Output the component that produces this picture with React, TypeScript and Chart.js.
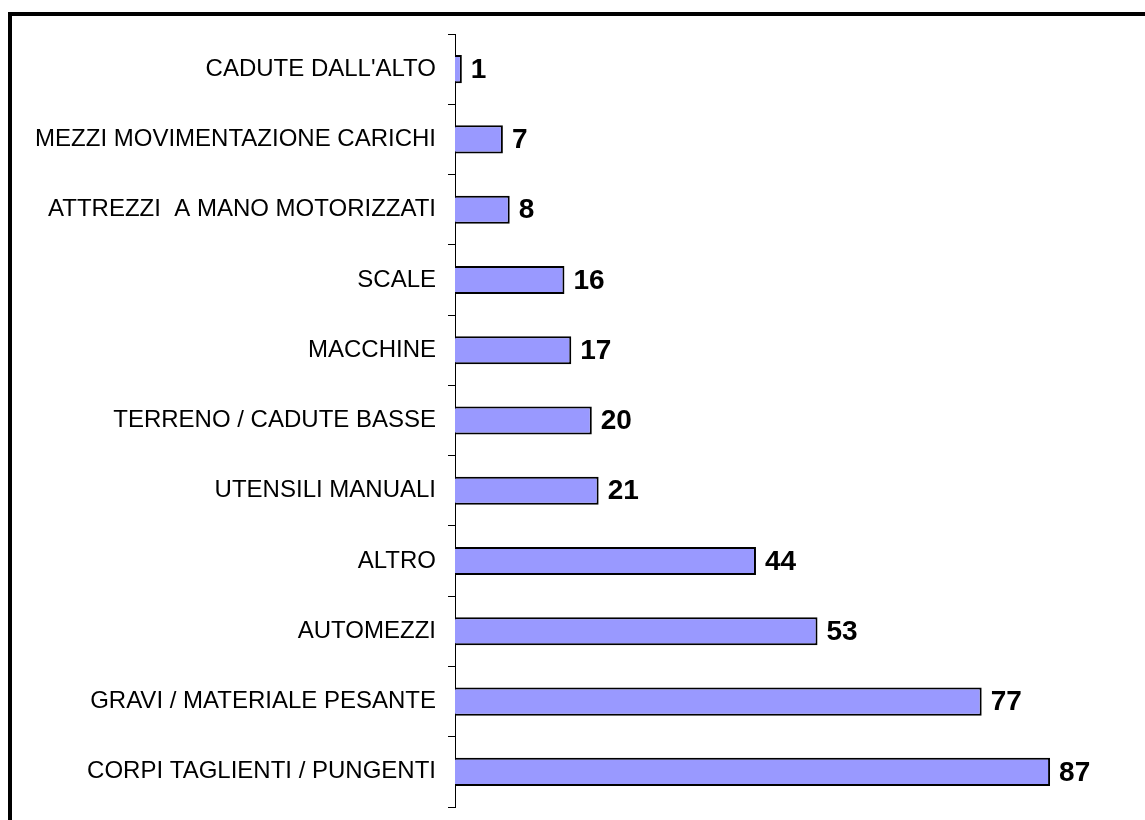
import React, { useEffect, useRef } from "react";
import { Chart, registerables } from "chart.js";

Chart.register(...registerables);

const categories = [
  "CADUTE DALL'ALTO",
  "MEZZI MOVIMENTAZIONE CARICHI",
  "ATTREZZI  A MANO MOTORIZZATI",
  "SCALE",
  "MACCHINE",
  "TERRENO / CADUTE BASSE",
  "UTENSILI MANUALI",
  "ALTRO",
  "AUTOMEZZI",
  "GRAVI / MATERIALE PESANTE",
  "CORPI TAGLIENTI / PUNGENTI",
];

const values = [1, 7, 8, 16, 17, 20, 21, 44, 53, 77, 87];

const xMin = 0;
const xMax = 100;

const valueLabelPlugin = {
  id: "valueLabels",
  afterDatasetsDraw(chart: any) {
    const ctx = chart.ctx;
    const meta = chart.getDatasetMeta(0);
    ctx.save();
    ctx.font = "bold 28px 'Liberation Sans', Arial, sans-serif";
    ctx.fillStyle = "#000";
    ctx.textAlign = "left";
    ctx.textBaseline = "middle";
    meta.data.forEach((bar: any, i: number) => {
      const v = chart.data.datasets[0].data[i];
      ctx.fillText(String(v), bar.x + 9, bar.y + 1);
    });
    ctx.restore();
  },
};

const framePlugin = {
  id: "frame",
  beforeDraw(chart: any) {
    const ctx = chart.ctx;
    ctx.save();
    ctx.fillStyle = "#fff";
    ctx.fillRect(0, 0, chart.width, chart.height);
    ctx.restore();
  },
  afterDraw(chart: any) {
    const ctx = chart.ctx;
    ctx.save();
    ctx.fillStyle = "#000";
    ctx.fillRect(8, 12, chart.width - 8, 4);
    ctx.fillRect(8, 12, 4, chart.height - 12);
    ctx.restore();
  },
};

export default function App() {
  const canvasRef = useRef<HTMLCanvasElement | null>(null);

  useEffect(() => {
    document.body.style.margin = "0";
    const canvas = canvasRef.current;
    if (!canvas) return;
    const chart = new Chart(canvas, {
      type: "bar",
      data: {
        labels: categories,
        datasets: [
          {
            data: values,
            backgroundColor: "#9999FF",
            borderColor: "#000000",
            borderWidth: 2,
            barPercentage: 0.4,
            categoryPercentage: 1,
          },
        ],
      },
      options: {
        indexAxis: "y",
        responsive: false,
        animation: false,
        devicePixelRatio: 1,
        layout: { padding: { left: 0, top: 34, bottom: 13, right: 6 } },
        plugins: {
          legend: { display: false },
          tooltip: { enabled: false },
          title: { display: false },
        },
        scales: {
          x: {
            display: false,
            min: xMin,
            max: xMax,
          },
          y: {
            offset: true,
            grid: {
              offset: true,
              drawOnChartArea: false,
              drawTicks: true,
              tickLength: 7,
              color: "#000",
              lineWidth: 1,
            },
            border: { display: true, color: "#000", width: 1 },
            ticks: {
              color: "#000",
              padding: 12,
              font: { family: "'Liberation Sans', Arial, sans-serif", size: 24 },
            },
            afterFit(scale: any) {
              scale.width = 455;
              scale.paddingTop = 0;
              scale.paddingBottom = 0;
            },
          },
        },
      },
      plugins: [framePlugin, valueLabelPlugin],
    });
    return () => chart.destroy();
  }, []);

  return (
    <canvas
      ref={canvasRef}
      width={1145}
      height={820}
      style={{ display: "block", width: 1145, height: 820 }}
    />
  );
}
